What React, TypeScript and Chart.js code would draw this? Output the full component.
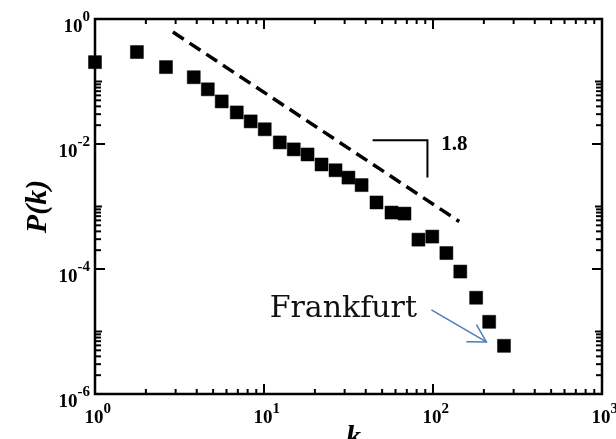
import React, { useEffect, useRef } from "react";
import { Chart, registerables } from "chart.js";

Chart.register(...registerables);

// Degree k and probability P(k)
const degreeK = [1, 1.77, 2.63, 3.84, 4.65, 5.62, 6.9, 8.34, 10.1, 12.4, 15.0, 18.1, 21.9, 26.5, 31.6, 37.8, 46.3, 56.8, 67.8, 82, 99, 120, 145, 180, 215, 263];
const probPk = [0.204, 0.296, 0.17, 0.117, 0.075, 0.048, 0.032, 0.023, 0.0172, 0.0106, 0.0082, 0.0068, 0.0047, 0.0038, 0.0029, 0.0022, 0.00116, 0.0008, 0.00077, 0.000295, 0.00033, 0.00018, 0.000091, 0.0000347, 0.0000143, 0.0000059];

// Power-law guide line (slope -1.8)
const guideK = [2.89, 143];
const guideP = [0.618, 0.000575];

// Slope bracket
const bracketK = [43.9, 92.7, 92.7];
const bracketP = [0.01145, 0.01145, 0.00292];
const slopeLabel = "1.8";
const slopeLabelK = 133.7;
const slopeLabelP = 0.0079;

// Annotation
const annotText = "Frankfurt";
const annotTextK = 10.8;
const annotTextP = 0.0000172;
const arrowFromK = 97.8;
const arrowFromP = 0.0000222;
const arrowToK = 207;
const arrowToP = 0.0000068;

// Axis ticks
const xLabelExps = [0, 1, 2, 3];
const yLabelExps = [0, -2, -4, -6];
const xMajorTicks = [10, 100];
const xMinorDecades = [1, 10, 100];
const yMinorTopTicks = [1e-1, 1e-3, 1e-5];
const yMinorDecades = [1e-2, 1e-4, 1e-6];
const mantissas = [2, 3, 4, 5, 6, 7, 8, 9];

const xAxisTitle = "k";
const yAxisTitle = "P(k)";

const SERIF = "'Liberation Serif', 'Times New Roman', serif";

const axesPlugin = {
  id: "customAxes",
  beforeDatasetsDraw(chart: any) {
    const { ctx, chartArea: a, scales } = chart;
    const xs = scales.x;
    const ys = scales.y;
    ctx.save();
    ctx.strokeStyle = "#000";
    ctx.lineWidth = 2.5;
    ctx.strokeRect(a.left, a.top, a.right - a.left, a.bottom - a.top);
    ctx.lineWidth = 2;
    const seg = (x1: number, y1: number, x2: number, y2: number) => {
      ctx.beginPath();
      ctx.moveTo(x1, y1);
      ctx.lineTo(x2, y2);
      ctx.stroke();
    };
    const xTick = (v: number, len: number) => {
      const px = xs.getPixelForValue(v);
      seg(px, a.bottom, px, a.bottom - len);
      seg(px, a.top, px, a.top + len);
    };
    const yTick = (v: number, len: number) => {
      const py = ys.getPixelForValue(v);
      seg(a.left, py, a.left + len, py);
      seg(a.right, py, a.right - len, py);
    };
    xMajorTicks.forEach((v) => xTick(v, 10));
    xMinorDecades.forEach((d) => mantissas.forEach((m) => xTick(m * d, 5)));
    yLabelExps.forEach((e) => yTick(Math.pow(10, e), 10));
    yMinorTopTicks.forEach((v) => yTick(v, 7));
    yMinorDecades.forEach((d) => mantissas.forEach((m) => yTick(m * d, 6)));
    ctx.restore();
  },
  afterDraw(chart: any) {
    const { ctx, chartArea: a, scales } = chart;
    const xs = scales.x;
    const ys = scales.y;
    ctx.save();
    ctx.fillStyle = "#000";
    ctx.textBaseline = "alphabetic";
    const baseFont = `bold 19px ${SERIF}`;
    const supFont = `bold 15px ${SERIF}`;
    // x tick labels
    xLabelExps.forEach((e) => {
      const px = xs.getPixelForValue(Math.pow(10, e));
      ctx.font = baseFont;
      ctx.textAlign = "center";
      const w = ctx.measureText("10").width;
      ctx.fillText("10", px - 1, a.bottom + 29);
      ctx.font = supFont;
      ctx.textAlign = "left";
      ctx.fillText(String(e), px - 1 + w / 2, a.bottom + 19);
    });
    // y tick labels
    yLabelExps.forEach((e) => {
      const py = ys.getPixelForValue(Math.pow(10, e));
      ctx.font = supFont;
      ctx.textAlign = "right";
      const sup = String(e);
      const sw = ctx.measureText(sup).width;
      ctx.fillText(sup, a.left - 5, py + 2);
      ctx.font = baseFont;
      ctx.fillText("10", a.left - 5 - sw, py + 12.5);
    });
    // axis titles
    ctx.font = `bold italic 30px ${SERIF}`;
    ctx.textAlign = "center";
    ctx.fillText(xAxisTitle, (a.left + a.right) / 2 + 5, a.bottom + 52);
    ctx.save();
    ctx.translate(46, (a.top + a.bottom) / 2 + 0);
    ctx.rotate(-Math.PI / 2);
    ctx.fillText(yAxisTitle, 0, 0);
    ctx.restore();
    // slope label
    ctx.font = `bold 21px ${SERIF}`;
    ctx.textAlign = "center";
    ctx.fillText(slopeLabel, xs.getPixelForValue(slopeLabelK), ys.getPixelForValue(slopeLabelP));
    // annotation text
    ctx.font = `30px 'DejaVu Serif', serif`;
    ctx.fillStyle = "#111";
    ctx.textAlign = "left";
    ctx.fillText(annotText, xs.getPixelForValue(annotTextK), ys.getPixelForValue(annotTextP));
    // arrow
    const x1 = xs.getPixelForValue(arrowFromK);
    const y1 = ys.getPixelForValue(arrowFromP);
    const x2 = xs.getPixelForValue(arrowToK);
    const y2 = ys.getPixelForValue(arrowToP);
    ctx.strokeStyle = "#4a7ebb";
    ctx.lineWidth = 1.5;
    ctx.beginPath();
    ctx.moveTo(x1, y1);
    ctx.lineTo(x2, y2);
    ctx.stroke();
    const ang = Math.atan2(y2 - y1, x2 - x1);
    const hl = 20;
    ctx.beginPath();
    ctx.moveTo(x2 + hl * Math.cos(ang + Math.PI - 0.52), y2 + hl * Math.sin(ang + Math.PI - 0.52));
    ctx.lineTo(x2, y2);
    ctx.lineTo(x2 + hl * Math.cos(ang + Math.PI + 0.52), y2 + hl * Math.sin(ang + Math.PI + 0.52));
    ctx.stroke();
    ctx.restore();
  },
};

export default function App() {
  const ref = useRef<HTMLCanvasElement | null>(null);
  useEffect(() => {
    if (!ref.current) return;
    const chart = new Chart(ref.current, {
      type: "scatter",
      data: {
        datasets: [
          {
            type: "line",
            data: guideK.map((k, i) => ({ x: k, y: guideP[i] })),
            borderColor: "#000",
            borderWidth: 3.5,
            borderDash: [13, 7],
            pointRadius: 0,
            showLine: true,
            fill: false,
          } as any,
          {
            type: "line",
            data: bracketK.map((k, i) => ({ x: k, y: bracketP[i] })),
            borderColor: "#000",
            borderWidth: 2,
            pointRadius: 0,
            showLine: true,
            fill: false,
            tension: 0,
          } as any,
          {
            data: degreeK.map((k, i) => ({ x: k, y: probPk[i] })),
            pointStyle: "rect",
            pointRadius: 9.2,
            backgroundColor: "#000",
            borderColor: "#000",
            borderWidth: 0.5,
            clip: false,
          } as any,
        ],
      },
      options: {
        animation: false,
        responsive: false,
        devicePixelRatio: 1,
        layout: { padding: { left: 95, right: 14, top: 19, bottom: 45 } },
        plugins: { legend: { display: false }, tooltip: { enabled: false } },
        scales: {
          x: { type: "logarithmic", min: 1, max: 1000, display: false },
          y: { type: "logarithmic", min: 1e-6, max: 1, display: false },
        },
      },
      plugins: [axesPlugin],
    } as any);
    return () => chart.destroy();
  }, []);
  return (
    <div style={{ position: "fixed", left: 0, top: 0, width: 616, height: 439, background: "#fff" }}>
      <canvas ref={ref} width={616} height={439} style={{ display: "block" }} />
    </div>
  );
}
